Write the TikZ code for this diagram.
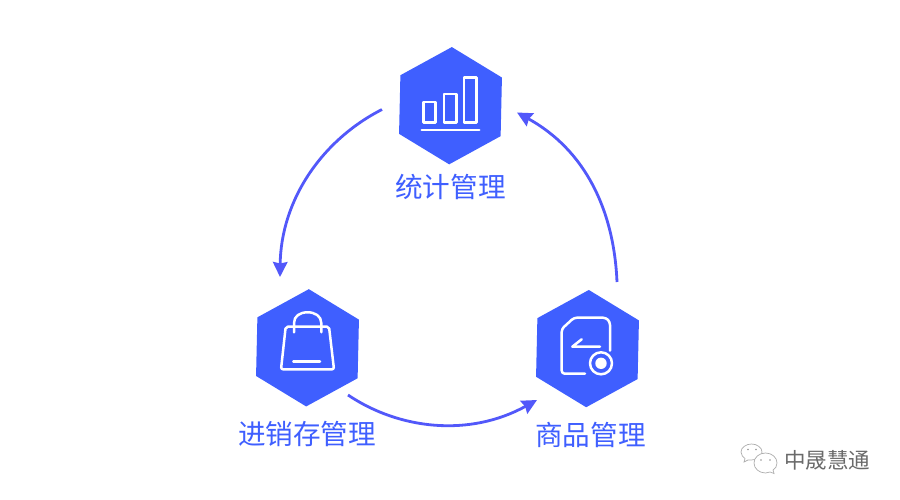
\documentclass[tikz,border=0pt]{standalone}
\usepackage{fontspec}
\usetikzlibrary{arrows.meta,shapes.geometric}
\newfontfamily\cjk{Noto Sans CJK SC}
\definecolor{hexblue}{HTML}{3F5FFF}
\definecolor{arcblue}{HTML}{5258FA}
\definecolor{markgrey}{HTML}{6A6A6A}
\tikzset{
  hexnode/.style={regular polygon,regular polygon sides=6,shape border rotate=28.7,minimum size=117.3pt,inner sep=0pt,outer sep=0pt,fill=hexblue},
  labelnode/.style={text=hexblue,inner sep=0pt,font=\cjk\fontsize{27.6}{30}\selectfont},
  icon/.style={draw=white,line width=2.5pt,line join=round,line cap=round},
  cycle arc/.style={draw=arcblue,line width=2.8pt,-{Stealth[length=15pt,width=14.5pt,inset=1.5pt]}},
  mark line/.style={draw=markgrey!55,line width=.7pt},
}
\begin{document}
\begin{tikzpicture}[x=1pt,y=-1pt]
\useasboundingbox (0,0) rectangle (900,500);
\fill[white] (0,0) rectangle (900,500);

\node[hexnode] (stat) at (450.5,105.7) {};
\node[hexnode] (shop) at (307.5,347.8) {};
\node[hexnode] (goods) at (587.5,348.6) {};

\node[labelnode] (statlabel) at (450.5,187) {统计管理};
\node[labelnode] (shoplabel) at (307,434) {进销存管理};
\node[labelnode] (goodslabel) at (590.5,435) {商品管理};

% connectors
\coordinate (a1) at (382,109.5);
\coordinate (a2) at (280,277);
\coordinate (b1) at (348,395);
\coordinate (b2) at (537,400);
\coordinate (c1) at (617,282);
\coordinate (c2) at (517,112.5);
\draw[cycle arc] (a1) .. controls (322,140) and (281,200) .. (a2);
\draw[cycle arc] (b1) .. controls (400,430) and (470,437) .. (b2);
\draw[cycle arc] (c1) .. controls (614,210) and (585,150) .. (c2);

% bar chart icon
\draw[icon] (423.7,102) rectangle (435.7,122.3);
\draw[icon] (444,94) rectangle (456.7,122.3);
\draw[icon] (464,77.7) rectangle (476.7,122.3);
\draw[icon] (421.7,130) -- (479.3,130);

% bag icon
\draw[icon,rounded corners=2pt] (285.7,326.7) -- (329,326.7) -- (334,369.3) -- (281,369.3) -- cycle;
\draw[icon] (294,332.3) -- (294,323) .. controls (294,316) and (300,312.3) .. (307.5,312.3) .. controls (315,312.3) and (321.3,316) .. (321.3,323) -- (321.3,332.3);
\draw[icon] (293.3,361.7) -- (320,361.7);

% document icon
\draw[icon,rounded corners=3pt] (585,373.7) -- (561.7,373.7) -- (561.7,329) -- (574,317.7) -- (606,317.7) -- (610,322) -- (610,350.7);
\draw[icon] (581.7,339.3) -- (572.3,346.7) -- (600,346.7);
\draw[icon] (601,363.3) circle (11pt);
\fill[white] (601,363.3) circle (5.7pt);

% watermark
\draw[mark line] (751.5,460) .. controls (757,460) and (762,456) .. (762,452) .. controls (762,447.5) and (757,444) .. (751.5,444) .. controls (746,444) and (741,447.5) .. (741,452) .. controls (741,455) and (743,457) .. (745,458.5) -- (744,462) -- (748,460) -- cycle;
\draw[mark line,fill=white] (765.5,453) .. controls (772,453) and (777,457.5) .. (777,463) .. controls (777,466) and (775.5,468.5) .. (773,470) -- (774,473.5) -- (770,472) .. controls (768,473) and (767,473) .. (765.5,473) .. controls (759,473) and (754,468.5) .. (754,463) .. controls (754,457.5) and (759,453) .. (765.5,453) -- cycle;
\fill[markgrey!70] (748,449.5) circle (.9pt) (756,449.5) circle (.9pt) (761,460) circle (.9pt) (770,460) circle (.9pt);
\node[text=markgrey,inner sep=0pt,font=\cjk\fontsize{21.5}{24}\selectfont] (brand) at (827,460) {中晟慧通};
\end{tikzpicture}
\end{document}
